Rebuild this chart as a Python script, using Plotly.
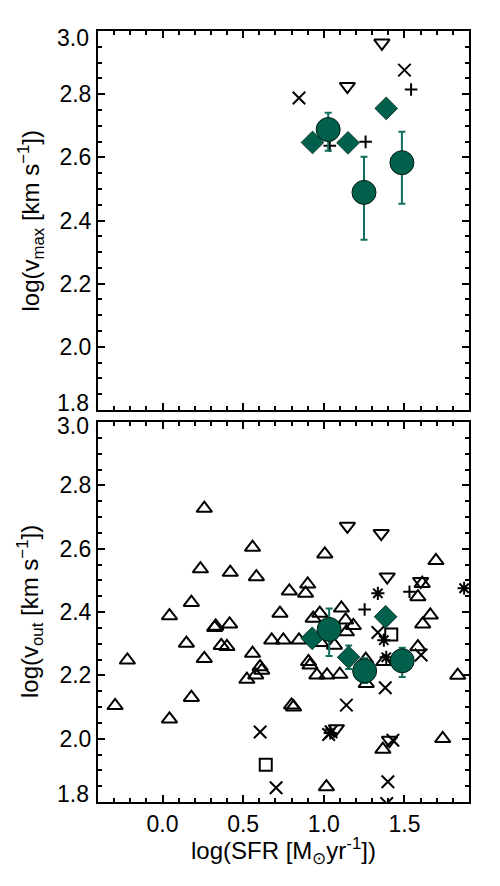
import plotly.graph_objects as go

GREEN = "#00604c"
EBAR = "#0f6f5c"

# ---------------- top panel: log(v_max) ----------------
top_tridown_x = [1.146, 1.360]
top_tridown_y = [2.825, 2.962]
top_x_x = [0.846, 1.500]
top_x_y = [2.788, 2.876]
top_plus_x = [1.037, 1.259, 1.541]
top_plus_y = [2.637, 2.649, 2.815]
top_diam_x = [0.930, 1.150, 1.387]
top_diam_y = [2.647, 2.646, 2.755]
top_circ_x = [1.027, 1.249, 1.484]
top_circ_y = [2.688, 2.489, 2.583]
top_circ_eplus = [0.053, 0.113, 0.098]
top_circ_eminus = [0.067, 0.150, 0.130]

# ---------------- bottom panel: log(v_out) ----------------
bot_tri_x = [-0.294, -0.218, 0.043, 0.043, 0.148, 0.179, 0.179, 0.235, 0.259, 0.259,
             0.323, 0.330, 0.364, 0.399, 0.416, 0.420, 0.558, 0.582, 0.558, 0.523,
             0.578, 0.605, 0.615, 0.677, 0.749, 0.728, 0.786, 0.800, 0.812, 0.846,
             0.887, 0.900, 0.934, 0.905, 0.914, 0.957, 0.975, 0.980, 1.006, 1.020,
             1.016, 1.066, 1.099, 1.109, 1.135, 1.140, 1.183, 1.263, 1.260, 1.372,
             1.583, 1.613, 1.660, 1.583, 1.610, 1.695, 1.830, 1.737, 1.366]
bot_tri_y = [2.104, 2.248, 2.388, 2.062, 2.301, 2.430, 2.130, 2.536, 2.727, 2.253,
             2.351, 2.355, 2.294, 2.291, 2.362, 2.525, 2.604, 2.511, 2.269, 2.187,
             2.201, 2.227, 2.216, 2.311, 2.311, 2.396, 2.466, 2.106, 2.100, 2.311,
             2.459, 2.488, 2.380, 2.243, 2.232, 2.201, 2.396, 2.303, 2.583, 2.201,
             1.848, 2.295, 2.203, 2.412, 2.374, 2.337, 2.357, 2.174, 2.250, 2.243,
             2.290, 2.362, 2.390, 2.448, 2.490, 2.562, 2.200, 2.000, 1.966]
bot_tridown_x = [1.146, 1.356, 1.393, 1.600, 1.078, 1.407]
bot_tridown_y = [2.671, 2.648, 2.511, 2.497, 2.032, 1.995]
bot_sq_x = [0.640, 1.418]
bot_sq_y = [1.918, 2.329]
bot_x_x = [0.605, 0.704, 1.030, 1.045, 1.140, 1.335, 1.381, 1.397, 1.428, 1.603, 1.390]
bot_x_y = [2.021, 1.845, 2.013, 2.022, 2.106, 2.335, 2.161, 1.864, 1.995, 2.264, 1.795]
bot_ast_x = [1.335, 1.372, 1.387, 1.870, 1.040]
bot_ast_y = [2.459, 2.311, 2.257, 2.475, 2.018]
bot_plus_x = [1.253, 1.531]
bot_plus_y = [2.408, 2.464]
bot_diam_x = [0.928, 1.154, 1.383]
bot_diam_y = [2.317, 2.257, 2.385]
bot_diam_err = [0.0, 0.037, 0.0]
bot_circ_x = [1.033, 1.253, 1.486]
bot_circ_y = [2.345, 2.214, 2.246]
bot_circ_eplus = [0.066, 0.040, 0.041]
bot_circ_eminus = [0.084, 0.038, 0.051]

x_range = [-0.4, 1.9]
y_range = [1.8, 3.0]
y_inner_ticks = [2.0, 2.2, 2.4, 2.6, 2.8]
y_edge_labels = ["3.0", "1.8"]

fig = go.Figure()

LW = 2.0


def open_trace(x, y, symbol, size, xa, ya):
    fig.add_trace(go.Scatter(
        x=x, y=y, mode="markers", xaxis=xa, yaxis=ya, showlegend=False,
        marker=dict(symbol=symbol, size=size, color="black",
                    line=dict(color="black", width=LW)),
    ))


def diam_trace(x, y, xa, ya, err=None):
    kw = {}
    if err is not None:
        kw["error_y"] = dict(type="data", array=err, color=EBAR, thickness=2, width=3.5)
    fig.add_trace(go.Scatter(
        x=x, y=y, mode="markers", xaxis=xa, yaxis=ya, showlegend=False,
        marker=dict(symbol="diamond", size=17.5, color=GREEN,
                    line=dict(color="#002a20", width=0.8)),
        **kw,
    ))


def circ_trace(x, y, ep, em, xa, ya):
    fig.add_trace(go.Scatter(
        x=x, y=y, mode="markers", xaxis=xa, yaxis=ya, showlegend=False,
        error_y=dict(type="data", symmetric=False, array=ep, arrayminus=em,
                     color=EBAR, thickness=2, width=3.5),
        marker=dict(symbol="circle", size=24, color=GREEN,
                    line=dict(color="#001a14", width=1)),
    ))


TRI = 13.5
# top
open_trace(top_tridown_x, top_tridown_y, "triangle-down-open", TRI, "x", "y")
open_trace(top_x_x, top_x_y, "x-thin-open", 12.5, "x", "y")
open_trace(top_plus_x, top_plus_y, "cross-thin-open", 9, "x", "y")
diam_trace(top_diam_x, top_diam_y, "x", "y")
circ_trace(top_circ_x, top_circ_y, top_circ_eplus, top_circ_eminus, "x", "y")

# bottom
open_trace(bot_tri_x, bot_tri_y, "triangle-up-open", TRI, "x2", "y2")
open_trace(bot_tridown_x, bot_tridown_y, "triangle-down-open", TRI, "x2", "y2")
open_trace(bot_sq_x, bot_sq_y, "square-open", 12, "x2", "y2")
open_trace(bot_x_x, bot_x_y, "x-thin-open", 12.5, "x2", "y2")
open_trace(bot_ast_x, bot_ast_y, "asterisk-open", 11, "x2", "y2")
open_trace(bot_plus_x, bot_plus_y, "cross-thin-open", 9, "x2", "y2")
diam_trace(bot_diam_x, bot_diam_y, "x2", "y2", err=bot_diam_err)
circ_trace(bot_circ_x, bot_circ_y, bot_circ_eplus, bot_circ_eminus, "x2", "y2")

FONT = "Liberation Sans, Arial, Helvetica, sans-serif"
TICKFONT = dict(family=FONT, size=23, color="black")

common_x = dict(range=x_range, showline=True, linecolor="black", linewidth=2,
                mirror="allticks", ticks="inside", ticklen=7, tickwidth=1.5,
                tickcolor="black", tick0=0, dtick=0.5, tickformat=".1f",
                showgrid=False, zeroline=False,
                minor=dict(ticks="inside", ticklen=4, tickwidth=1.5, dtick=0.1,
                           tick0=0, tickcolor="black", showgrid=False),
                tickfont=TICKFONT)
common_y = dict(range=y_range, showline=True, linecolor="black", linewidth=2,
                mirror="allticks", ticks="inside", ticklen=7, tickwidth=1.5,
                tickcolor="black", tickmode="array", tickvals=y_inner_ticks,
                tickformat=".1f",
                showgrid=False, zeroline=False,
                minor=dict(ticks="inside", ticklen=4, tickwidth=1.5, dtick=0.05,
                           tick0=0, tickcolor="black", showgrid=False),
                tickfont=TICKFONT)

PLOT_TOP, PLOT_BOT = 31, 802
H = PLOT_BOT - PLOT_TOP


def py(p):
    return (PLOT_BOT - p) / H


edge_label_px = [38, 403, 426, 794]
edge_label_txt = [y_edge_labels[0], y_edge_labels[1], y_edge_labels[0], y_edge_labels[1]]

annotations = [
    dict(text="log(v<sub>max</sub> [km s<sup>\u22121</sup>])", xref="paper", yref="paper",
         x=(30 - 98) / 371, y=py(220.5), xanchor="center", yanchor="middle",
         textangle=-90, showarrow=False, font=dict(family=FONT, size=24)),
    dict(text="log(v<sub>out</sub> [km s<sup>\u22121</sup>])", xref="paper", yref="paper",
         x=(30 - 98) / 371, y=py(612), xanchor="center", yanchor="middle",
         textangle=-90, showarrow=False, font=dict(family=FONT, size=24)),
    dict(text="log(SFR [M<sub>\u2299</sub>yr<sup>-1</sup>])", xref="paper", yref="paper",
         x=0.5, y=py(851), xanchor="center", yanchor="middle",
         showarrow=False, font=dict(family=FONT, size=24)),
]
for p, t in zip(edge_label_px, edge_label_txt):
    annotations.append(dict(text=t, xref="paper", yref="paper", x=(91 - 98) / 371,
                            y=py(p), xanchor="right", yanchor="middle", showarrow=False,
                            font=TICKFONT))

fig.update_layout(
    width=500, height=886,
    margin=dict(l=98, r=31, t=PLOT_TOP, b=886 - PLOT_BOT),
    paper_bgcolor="white", plot_bgcolor="white",
    font=dict(family=FONT, size=23, color="black"),
    xaxis=dict(**common_x, anchor="y", showticklabels=False, matches="x2"),
    yaxis=dict(**common_y, anchor="x", domain=[py(410), 1.0]),
    xaxis2=dict(**common_x, anchor="y2"),
    yaxis2=dict(**common_y, anchor="x2", domain=[0.0, py(422)]),
    annotations=annotations,
)

fig.write_html("out.html")
